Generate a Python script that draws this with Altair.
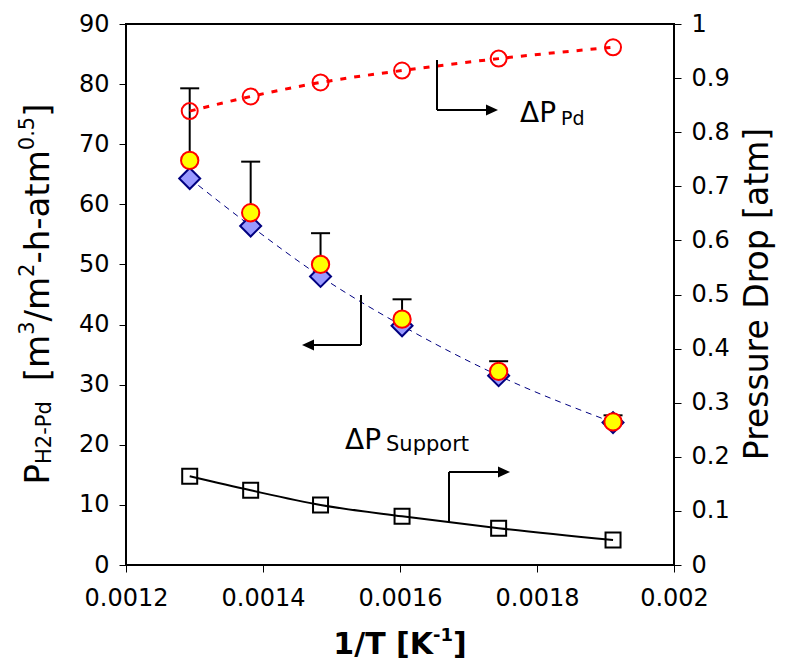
import altair as alt
import pandas as pd

# ---------------- data ----------------
inv_T = [0.001293, 0.001382, 0.001484, 0.001603, 0.001744, 0.001911]
perm_model = [64.3, 56.4, 48.0, 39.8, 31.5, 23.7]      # diamonds (left axis)
perm_exp = [67.3, 58.6, 50.0, 40.9, 32.2, 23.8]        # yellow circles (left axis)
perm_err_top = [79.3, 67.1, 55.2, 44.2, 33.9, 24.9]    # upper error-bar ends
dp_pd = [0.839, 0.866, 0.892, 0.914, 0.936, 0.957]     # open red circles (right axis)
dp_support = [0.164, 0.138, 0.111, 0.090, 0.068, 0.046]  # squares (right axis)

x_ticks = [0.0012, 0.0014, 0.0016, 0.0018, 0.002]
left_ticks = [0, 10, 20, 30, 40, 50, 60, 70, 80, 90]
right_ticks = [0, 0.1, 0.2, 0.3, 0.4, 0.5, 0.6, 0.7, 0.8, 0.9, 1]

FONT = "DejaVu Sans"
PAD_L, PAD_T, PAD_R, PAD_B = 118, 16, 105, 97
W, H = 548, 541
OX, OY = 8 + PAD_L, 8 + PAD_T   # page position of the plot origin

df = pd.DataFrame(dict(invT=inv_T, model=perm_model, exp=perm_exp,
                       err=perm_err_top, dppd=dp_pd, dpsup=dp_support))

xenc = alt.X("invT:Q",
             scale=alt.Scale(domain=[0.0012, 0.002], nice=False, zero=False),
             axis=alt.Axis(values=x_ticks, format=".4~f", title=None,
                           labelPadding=14, labelFlush=False, labelOverlap=False))


def yL(field, axis=None):
    return alt.Y(f"{field}:Q", scale=alt.Scale(domain=[0, 90], nice=False), axis=axis)


def yR(field, axis=None):
    return alt.Y(f"{field}:Q", scale=alt.Scale(domain=[0, 1], nice=False), axis=axis)


left_axis = alt.Axis(values=left_ticks, title=None, orient="left", labelPadding=10)
right_axis = alt.Axis(values=right_ticks, title=None, orient="right", format="~g", labelPadding=10)

base = alt.Chart(df)

blue_line = base.mark_line(color="#000080", strokeWidth=1, strokeDash=[6, 5],
                           interpolate="monotone").encode(x=xenc, y=yL("model", left_axis))
diamonds = base.mark_point(shape="diamond", filled=True, fill="#9999FF", stroke="#000080",
                           strokeWidth=2, size=440, opacity=1).encode(x=xenc, y=yL("model"))
err_rule = base.mark_rule(color="black", strokeWidth=2).encode(x=xenc, y=yL("exp"), y2="err")
err_cap = base.mark_tick(orient="horizontal", color="black", thickness=2, size=19,
                         opacity=1).encode(x=xenc, y=yL("err"))
yellow = base.mark_point(shape="circle", filled=True, fill="#FFFF00", stroke="#FF0000",
                         strokeWidth=2, size=300, opacity=1).encode(x=xenc, y=yL("exp"))
black_line = base.mark_line(color="black", strokeWidth=2,
                            interpolate="monotone").encode(x=xenc, y=yR("dpsup"))
squares = base.mark_point(shape="square", filled=False, stroke="black", strokeWidth=2,
                          size=225, opacity=1).encode(x=xenc, y=yR("dpsup"))
red_line = base.mark_line(color="#FF0000", strokeWidth=3, strokeDash=[6, 8],
                          interpolate="monotone").encode(x=xenc, y=yR("dppd", right_axis))
red_circles = base.mark_point(shape="circle", filled=False, stroke="#FF0000", strokeWidth=2,
                              size=256, opacity=1).encode(x=xenc, y=yR("dppd"))

# ---------------- annotations (given in page pixels, converted to plot coords) ----------------
ann = alt.Chart(pd.DataFrame({"k": [0]}))


def vrule(x, y1, y2):
    return ann.mark_rule(color="black", strokeWidth=2).encode(
        x=alt.value(x - OX), y=alt.value(y1 - OY), y2=alt.value(y2 - OY))


def hrule(x1, x2, y):
    return ann.mark_rule(color="black", strokeWidth=2).encode(
        x=alt.value(x1 - OX), x2=alt.value(x2 - OX), y=alt.value(y - OY))


ARROW_R = "M0,0 L-1,-0.45 L-1,0.45 Z"
ARROW_L = "M0,0 L1,-0.45 L1,0.45 Z"


def head(x, y, shape):
    return ann.mark_point(shape=shape, filled=True, color="black", size=576, opacity=1,
                          strokeWidth=0).encode(x=alt.value(x - OX), y=alt.value(y - OY))


def txt(s, x, y, size, angle=0, weight="normal", align="left"):
    return ann.mark_text(text=s, font=FONT, fontSize=size, fontWeight=weight, angle=angle,
                         align=align, baseline="alphabetic", color="black").encode(
        x=alt.value(x - OX), y=alt.value(y - OY))


annotations = [
    # Delta P Pd arrow (to the right axis)
    vrule(437, 60, 110), hrule(437, 488, 110), head(498, 110, ARROW_R),
    txt("ΔP", 520, 122, 28), txt("Pd", 561, 125, 19),
    # arrow to the left axis
    vrule(361, 295, 345), hrule(312, 361, 345), head(302, 345, ARROW_L),
    # Delta P Support arrow
    vrule(449, 522, 472), hrule(449, 500, 472), head(510, 472, ARROW_R),
    txt("ΔP", 345, 449, 28), txt("Support", 386, 451, 21),
]

# ---------------- axis titles with sub/superscripts ----------------
WID = {"P": .603, "H": .752, "2": .636, "-": .361, "d": .635, "[": .390, "]": .390,
       "m": .974, "3": .636, "/": .337, "h": .634, "a": .613, "t": .392, "0": .636,
       ".": .318, "5": .636, " ": .318}
WIDB = {"1": .696, "/": .365, "T": .682, " ": .348, "[": .457, "K": .775, "-": .415, "]": .457}


def width(s, size, table):
    return sum(table.get(c, .6) for c in s) * size


MAIN, SMALL = 34, 21
left_pieces = [("P", MAIN, 0, 0), ("H2-Pd", SMALL, 2, 0), ("[m", MAIN, 0, 20),
               ("3", SMALL, -15, 0), ("/m", MAIN, 0, 0), ("2", SMALL, -15, 0),
               ("-h-atm", MAIN, 0, 0), ("0.5", SMALL, -15, 0), ("]", MAIN, 0, 0)]
total = sum(width(s, f, WID) + gap for s, f, _, gap in left_pieces)
ypos = 294 + total / 2
base_x = 49
for s, f, shift, gap in left_pieces:
    ypos -= gap
    annotations.append(txt(s, base_x + shift, ypos, f, angle=270))
    ypos -= width(s, f, WID)

x_pieces = [("1/T [K", 30, 0), ("-1", 18, -13), ("]", 30, 0)]
total_x = sum(width(s, f, WIDB) for s, f, _ in x_pieces)
xpos = 400 - total_x / 2
for s, f, dy in x_pieces:
    annotations.append(txt(s, xpos, 654 + dy, f, weight="bold"))
    xpos += width(s, f, WIDB)

annotations.append(txt("Pressure Drop [atm]", 768, 294, 33, angle=270, align="center"))

chart = alt.layer(
    blue_line, diamonds, err_rule, err_cap, yellow,
    black_line, squares, red_line, red_circles, *annotations
).resolve_scale(y="independent").properties(
    width=W, height=H,
    autosize=alt.AutoSizeParams(type="none"),
    padding={"left": PAD_L, "top": PAD_T, "right": PAD_R, "bottom": PAD_B},
).configure_view(
    stroke="black", strokeWidth=2
).configure_axis(
    labelFont=FONT, labelFontSize=24, labelColor="black", tickColor="black",
    tickSize=7, tickWidth=1, domain=False, grid=False
)

chart.save("out.html", embed_options={"renderer": "svg", "actions": False})
